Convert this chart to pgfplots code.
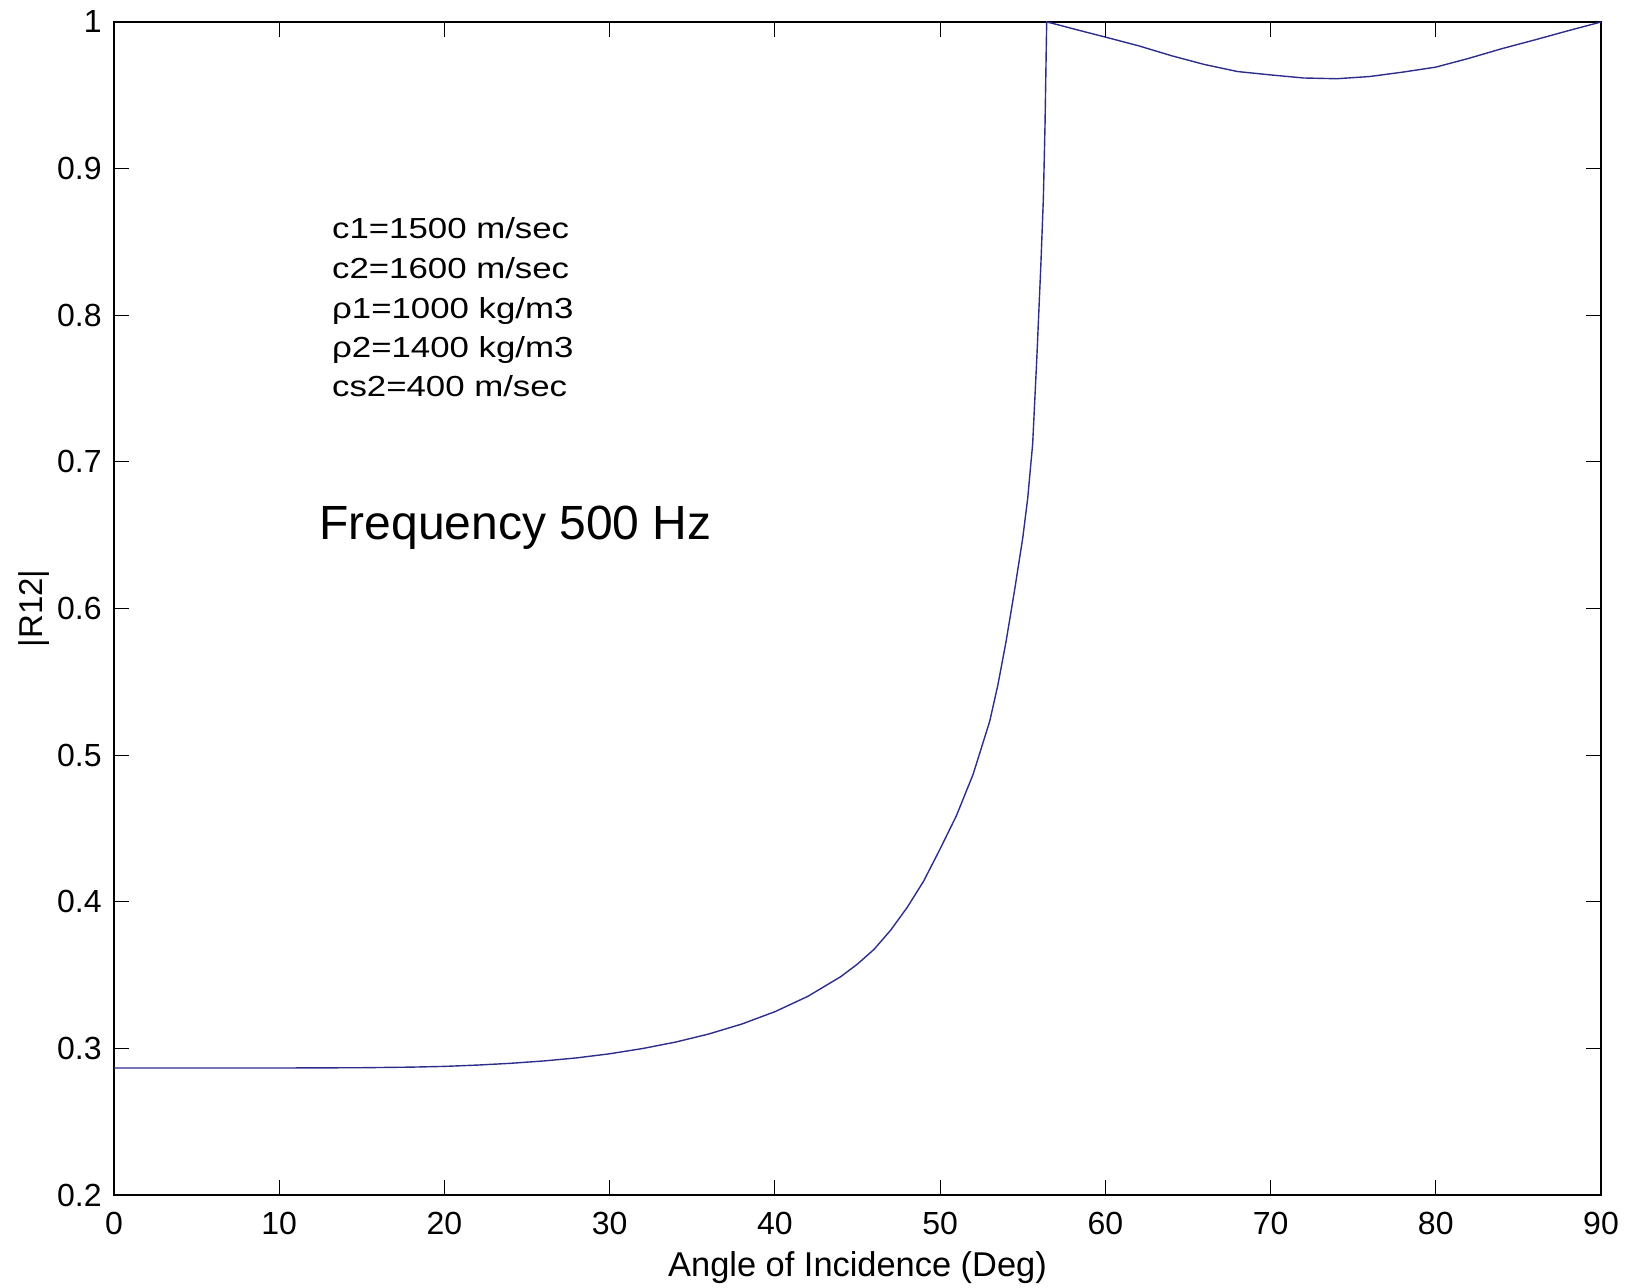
\documentclass[border=0pt]{standalone}
\usepackage{fontspec}
\setmainfont{Liberation Sans}
\newfontfamily\widefont[FakeStretch=1.2]{Liberation Sans}
\usepackage{pgfplots}
\pgfplotsset{compat=1.18}
\definecolor{curve}{RGB}{45,45,140}
\begin{document}
\begin{tikzpicture}
\begin{axis}[
  name=ax,
  scale only axis,
  width=743.5pt, height=586.5pt,
  xmin=0, xmax=90, ymin=0.2, ymax=1,
  xtick={0,10,...,90},
  ytick={0.2,0.3,0.4,0.5,0.6,0.7,0.8,0.9,1},
  yticklabels={0.2,0.3,0.4,0.5,0.6,0.7,0.8,0.9,1},
  tick align=inside,
  major tick length=7.7pt,
  tick style={black, line width=0.5pt},
  axis line style={black, line width=0.6pt},
  /pgf/number format/assume math mode=true,
  ticklabel style={font=\fontsize{16}{19}\selectfont},
  xticklabel style={anchor=north, inner sep=0pt, yshift=-8.5pt},
  yticklabel style={anchor=east, inner sep=0pt, xshift=-6pt},
  xlabel={Angle of Incidence (Deg)},
  ylabel={|R12|},
  xlabel style={font=\fontsize{17.2}{20}\selectfont, at={([yshift=-41pt]rel axis cs:0.5,0)}, anchor=base, inner sep=0pt},
  ylabel style={font=\fontsize{16.5}{19}\selectfont, at={([xshift=-32pt]rel axis cs:0,0.5)}, anchor=south, inner sep=0pt},
]
\addplot[curve, line width=0.7pt] coordinates {
(0,0.2866) (5,0.2866) (10,0.2866) (15,0.2868) (18,0.2872) (20,0.2877)
(22,0.2886) (24,0.2898) (26,0.2914) (28,0.2935) (30,0.2963) (32,0.2999)
(34,0.3043) (36,0.3098) (38,0.3166) (40,0.3250) (42,0.3355) (44,0.3490)
(45,0.3575) (46,0.3675) (47,0.3805) (48,0.3960) (49,0.4140) (50,0.4360)
(51,0.4590) (52,0.4870) (53,0.5230) (53.5,0.5480) (54,0.5780) (54.5,0.6120)
(55,0.6480) (55.3,0.6750) (55.6,0.7120) (55.85,0.7700) (56.1,0.8350)
(56.25,0.8800) (56.35,0.9300) (56.45,1.0000)
(57,0.9985) (58,0.9955) (60,0.9897) (62,0.9838) (64,0.9770) (66,0.9710)
(68,0.9662) (70,0.9639) (72,0.9618) (74,0.9613) (76,0.9628) (78,0.9658)
(80,0.9692) (82,0.9752) (84,0.9818) (86,0.9878) (88,0.9940) (90,1.0000)
};
\node[anchor=base west, inner sep=0pt, font=\widefont\fontsize{14.5}{17}\selectfont] at (axis cs:13.18,0.8521) {c1=1500 m/sec};
\node[anchor=base west, inner sep=0pt, font=\widefont\fontsize{14.5}{17}\selectfont] at (axis cs:13.18,0.8253) {c2=1600 m/sec};
\node[anchor=base west, inner sep=0pt, font=\widefont\fontsize{14.5}{17}\selectfont] at (axis cs:13.18,0.7980) {ρ1=1000 kg/m3};
\node[anchor=base west, inner sep=0pt, font=\widefont\fontsize{14.5}{17}\selectfont] at (axis cs:13.18,0.7709) {ρ2=1400 kg/m3};
\node[anchor=base west, inner sep=0pt, font=\widefont\fontsize{14.5}{17}\selectfont] at (axis cs:13.18,0.7443) {cs2=400 m/sec};
\node[anchor=base west, inner sep=0pt, font=\fontsize{24}{28}\selectfont] at (axis cs:12.41,0.6468) {Frequency 500 Hz};
\end{axis}
\pgfresetboundingbox
\path[use as bounding box] ([xshift=-57pt,yshift=-46.5pt]ax.south west) rectangle ([xshift=19.5pt,yshift=11pt]ax.north east);
\end{tikzpicture}
\end{document}
